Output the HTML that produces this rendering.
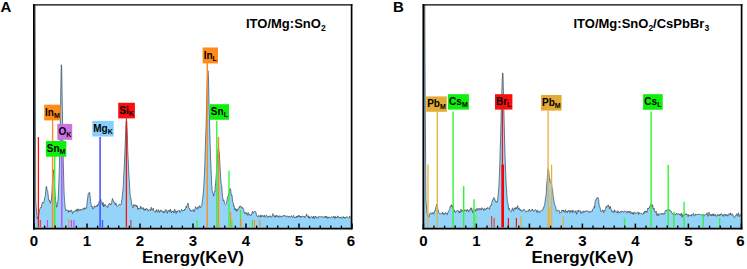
<!DOCTYPE html>
<html><head><meta charset="utf-8"><title>EDS</title>
<style>
html,body{margin:0;padding:0;background:#fff;}
body{width:747px;height:269px;overflow:hidden;font-family:"Liberation Sans",sans-serif;}
svg{display:block;font-family:"Liberation Sans",sans-serif;}
.tk{font-size:15px;font-weight:bold;text-anchor:middle;fill:#000;}
.lb{font-size:10px;font-weight:bold;text-anchor:middle;fill:#000;}
.sb{font-size:7px;font-weight:bold;}
.pl{font-size:15px;font-weight:bold;fill:#000;}
.tt{font-size:13px;font-weight:bold;fill:#000;}
.ts{font-size:8.5px;font-weight:bold;}
.ax{font-size:17px;font-weight:bold;text-anchor:middle;fill:#000;}
</style></head><body>
<svg width="747" height="269" viewBox="0 0 747 269">
<rect width="747" height="269" fill="#fff"/>
<!-- Panel A -->
<path d="M35.0 228.0 L34.8 5.0 L35.1 5.0 L35.4 100.0 L35.7 200.0 L36.5 211.5 L37.3 218.9 L37.7 217.5 L38.1 216.3 L38.5 216.1 L38.9 213.7 L39.3 211.5 L39.7 209.5 L40.1 208.5 L40.5 207.5 L40.9 207.1 L41.3 207.6 L41.7 205.0 L42.1 203.6 L42.5 202.0 L42.9 202.7 L43.3 203.0 L43.7 202.1 L44.1 201.9 L44.5 198.0 L44.9 197.3 L45.3 195.8 L45.7 191.9 L46.1 186.9 L46.5 186.4 L46.9 188.9 L47.3 190.6 L47.7 191.2 L48.1 194.6 L48.5 198.5 L48.9 200.5 L49.3 200.8 L49.7 199.9 L50.1 203.1 L50.5 203.2 L50.9 201.5 L51.3 200.8 L51.7 195.8 L52.1 190.1 L52.5 181.0 L52.9 174.6 L53.3 172.3 L53.7 169.7 L54.1 175.8 L54.5 185.8 L54.9 191.4 L55.3 196.3 L55.7 201.0 L56.1 203.3 L56.5 207.2 L56.9 206.9 L57.3 204.5 L57.7 202.5 L58.1 198.6 L58.5 191.9 L58.9 181.1 L59.3 170.7 L59.7 151.2 L60.1 133.2 L60.5 108.3 L60.9 84.3 L61.3 64.8 L61.7 68.3 L62.1 93.2 L62.5 117.0 L62.9 143.2 L63.3 163.3 L63.7 179.3 L64.1 193.3 L64.5 200.5 L64.9 203.7 L65.3 209.1 L65.7 209.8 L66.1 210.8 L66.5 209.7 L66.9 210.3 L67.3 210.5 L67.7 210.5 L68.1 210.8 L68.5 212.4 L68.9 210.4 L69.3 211.9 L69.7 211.4 L70.1 210.5 L70.5 211.6 L70.9 211.2 L71.3 209.9 L71.7 210.6 L72.1 211.8 L72.5 213.8 L72.9 212.7 L73.3 211.7 L73.7 211.5 L74.1 211.8 L74.5 210.8 L74.9 211.1 L75.3 211.0 L75.7 210.1 L76.1 211.2 L76.5 211.2 L76.9 208.7 L77.3 209.0 L77.7 211.4 L78.1 211.0 L78.5 209.9 L78.9 208.9 L79.3 209.6 L79.7 210.5 L80.1 210.8 L80.5 209.5 L80.9 209.2 L81.3 210.0 L81.7 209.9 L82.1 209.9 L82.5 208.8 L82.9 209.6 L83.3 208.9 L83.7 208.1 L84.1 208.2 L84.5 209.4 L84.9 207.7 L85.3 208.6 L85.7 207.9 L86.1 208.0 L86.5 208.3 L86.9 204.7 L87.3 201.1 L87.7 198.1 L88.1 194.6 L88.5 193.1 L88.9 192.7 L89.3 192.8 L89.7 192.3 L90.1 195.9 L90.5 201.2 L90.9 203.2 L91.3 205.7 L91.7 207.1 L92.1 206.3 L92.5 207.4 L92.9 209.1 L93.3 208.8 L93.7 207.5 L94.1 207.0 L94.5 205.8 L94.9 207.3 L95.3 206.5 L95.7 206.1 L96.1 206.7 L96.5 205.7 L96.9 205.4 L97.3 206.5 L97.7 204.5 L98.1 205.3 L98.5 204.0 L98.9 202.5 L99.3 201.1 L99.7 201.4 L100.1 200.6 L100.5 200.4 L100.9 199.5 L101.3 201.7 L101.7 202.4 L102.1 203.3 L102.5 205.3 L102.9 202.2 L103.3 204.0 L103.7 206.8 L104.1 204.5 L104.5 206.0 L104.9 205.5 L105.3 204.5 L105.7 205.8 L106.1 206.2 L106.5 206.3 L106.9 205.9 L107.3 207.3 L107.7 207.5 L108.1 206.2 L108.5 204.5 L108.9 204.4 L109.3 203.2 L109.7 203.5 L110.1 204.6 L110.5 204.0 L110.9 205.0 L111.3 203.7 L111.7 202.3 L112.1 200.0 L112.5 198.5 L112.9 199.6 L113.3 200.6 L113.7 202.4 L114.1 202.1 L114.5 202.2 L114.9 202.8 L115.3 204.9 L115.7 203.1 L116.1 203.3 L116.5 205.2 L116.9 206.3 L117.3 206.4 L117.7 205.9 L118.1 205.9 L118.5 205.4 L118.9 204.9 L119.3 204.2 L119.7 204.0 L120.1 205.2 L120.5 204.8 L120.9 204.7 L121.3 204.2 L121.7 199.9 L122.1 199.0 L122.5 193.7 L122.9 190.8 L123.3 185.3 L123.7 176.7 L124.1 169.8 L124.5 160.8 L124.9 151.6 L125.3 141.5 L125.7 130.5 L126.1 123.5 L126.5 118.3 L126.9 124.9 L127.3 132.4 L127.7 149.6 L128.1 158.5 L128.5 165.4 L128.9 175.1 L129.3 181.1 L129.7 187.6 L130.1 194.3 L130.5 197.9 L130.9 197.9 L131.3 201.9 L131.7 204.3 L132.1 206.0 L132.5 206.2 L132.9 207.8 L133.3 207.4 L133.7 204.4 L134.1 204.9 L134.5 205.9 L134.9 205.6 L135.3 204.8 L135.7 205.9 L136.1 205.0 L136.5 205.6 L136.9 207.0 L137.3 205.9 L137.7 209.4 L138.1 209.3 L138.5 207.9 L138.9 208.8 L139.3 208.6 L139.7 208.9 L140.1 209.2 L140.5 206.1 L140.9 207.0 L141.3 208.5 L141.7 207.6 L142.1 208.7 L142.5 208.3 L142.9 208.5 L143.3 207.6 L143.7 210.1 L144.1 209.1 L144.5 209.0 L144.9 210.5 L145.3 208.9 L145.7 210.0 L146.1 208.4 L146.5 208.6 L146.9 208.8 L147.3 209.4 L147.7 208.9 L148.1 211.2 L148.5 210.4 L148.9 210.4 L149.3 209.9 L149.7 209.9 L150.1 209.4 L150.5 210.6 L150.9 208.7 L151.3 207.3 L151.7 209.5 L152.1 210.3 L152.5 210.0 L152.9 209.0 L153.3 208.1 L153.7 210.8 L154.1 211.4 L154.5 211.6 L154.9 211.8 L155.3 212.4 L155.7 210.8 L156.1 211.5 L156.5 209.7 L156.9 209.4 L157.3 211.3 L157.7 212.0 L158.1 211.7 L158.5 209.8 L158.9 211.2 L159.3 212.6 L159.7 211.5 L160.1 210.7 L160.5 211.5 L160.9 209.8 L161.3 210.2 L161.7 210.5 L162.1 211.6 L162.5 211.3 L162.9 211.2 L163.3 213.1 L163.7 211.5 L164.1 212.5 L164.5 211.6 L164.9 212.3 L165.3 209.7 L165.7 210.0 L166.1 210.1 L166.5 209.9 L166.9 211.9 L167.3 213.5 L167.7 212.1 L168.1 210.3 L168.5 210.6 L168.9 210.3 L169.3 209.9 L169.7 212.0 L170.1 211.2 L170.5 209.1 L170.9 210.9 L171.3 213.0 L171.7 211.9 L172.1 211.5 L172.5 210.8 L172.9 211.7 L173.3 211.2 L173.7 213.0 L174.1 211.0 L174.5 209.3 L174.9 209.3 L175.3 211.9 L175.7 211.2 L176.1 213.6 L176.5 211.7 L176.9 211.0 L177.3 211.9 L177.7 211.0 L178.1 210.7 L178.5 210.0 L178.9 210.4 L179.3 210.6 L179.7 212.5 L180.1 212.5 L180.5 211.6 L180.9 210.6 L181.3 210.6 L181.7 209.3 L182.1 210.9 L182.5 211.1 L182.9 210.5 L183.3 210.7 L183.7 210.1 L184.1 210.8 L184.5 209.2 L184.9 209.8 L185.3 208.6 L185.7 208.4 L186.1 206.4 L186.5 207.6 L186.9 205.6 L187.3 205.0 L187.7 204.2 L188.1 203.1 L188.5 205.8 L188.9 207.8 L189.3 208.6 L189.7 208.2 L190.1 210.6 L190.5 210.0 L190.9 210.9 L191.3 211.4 L191.7 210.7 L192.1 209.7 L192.5 210.3 L192.9 210.4 L193.3 209.8 L193.7 209.8 L194.1 212.0 L194.5 210.6 L194.9 209.2 L195.3 207.9 L195.7 206.6 L196.1 207.4 L196.5 208.3 L196.9 209.4 L197.3 208.7 L197.7 207.5 L198.1 206.7 L198.5 208.4 L198.9 208.0 L199.3 206.9 L199.7 205.5 L200.1 206.4 L200.5 207.5 L200.9 207.5 L201.3 206.6 L201.7 205.8 L202.1 202.9 L202.5 199.8 L202.9 197.0 L203.3 192.3 L203.7 188.5 L204.1 180.9 L204.5 172.8 L204.9 162.1 L205.3 147.9 L205.7 136.1 L206.1 125.3 L206.5 107.8 L206.9 91.4 L207.3 79.5 L207.7 71.9 L208.1 70.8 L208.5 79.0 L208.9 97.4 L209.3 112.4 L209.7 126.3 L210.1 143.9 L210.5 155.9 L210.9 166.1 L211.3 175.2 L211.7 185.3 L212.1 190.2 L212.5 191.8 L212.9 193.5 L213.3 193.9 L213.7 196.2 L214.1 193.3 L214.5 191.6 L214.9 191.9 L215.3 186.4 L215.7 182.6 L216.1 177.1 L216.5 172.2 L216.9 164.6 L217.3 159.1 L217.7 154.7 L218.1 148.5 L218.5 147.3 L218.9 150.6 L219.3 152.7 L219.7 160.5 L220.1 168.2 L220.5 174.1 L220.9 180.8 L221.3 184.8 L221.7 185.3 L222.1 191.8 L222.5 195.3 L222.9 198.9 L223.3 200.9 L223.7 199.8 L224.1 200.8 L224.5 203.4 L224.9 203.7 L225.3 204.5 L225.7 204.6 L226.1 204.2 L226.5 203.5 L226.9 200.9 L227.3 198.5 L227.7 196.7 L228.1 195.6 L228.5 195.5 L228.9 192.7 L229.3 191.8 L229.7 189.0 L230.1 188.4 L230.5 188.8 L230.9 191.4 L231.3 195.6 L231.7 194.9 L232.1 195.7 L232.5 201.2 L232.9 202.7 L233.3 202.8 L233.7 206.4 L234.1 205.8 L234.5 207.8 L234.9 210.1 L235.3 208.5 L235.7 209.0 L236.1 210.5 L236.5 209.5 L236.9 211.5 L237.3 208.9 L237.7 209.8 L238.1 209.3 L238.5 209.1 L238.9 208.0 L239.3 206.6 L239.7 207.5 L240.1 206.0 L240.5 206.1 L240.9 206.9 L241.3 206.7 L241.7 207.7 L242.1 208.4 L242.5 207.4 L242.9 208.7 L243.3 208.7 L243.7 209.7 L244.1 211.9 L244.5 213.6 L244.9 213.3 L245.3 212.4 L245.7 212.7 L246.1 213.8 L246.5 212.7 L246.9 214.7 L247.3 215.3 L247.7 214.3 L248.1 212.4 L248.5 213.4 L248.9 215.3 L249.3 214.7 L249.7 214.3 L250.1 214.2 L250.5 215.1 L250.9 215.7 L251.3 215.0 L251.7 214.2 L252.1 212.7 L252.5 211.4 L252.9 213.0 L253.3 213.1 L253.7 212.2 L254.1 211.9 L254.5 211.3 L254.9 211.3 L255.3 211.9 L255.7 211.6 L256.1 213.2 L256.5 215.0 L256.9 216.1 L257.3 216.2 L257.7 216.3 L258.1 217.1 L258.5 215.5 L258.9 215.3 L259.3 215.9 L259.7 216.5 L260.1 217.2 L260.5 217.0 L260.9 214.8 L261.3 217.1 L261.7 216.5 L262.1 215.4 L262.5 215.8 L262.9 216.3 L263.3 215.7 L263.7 216.8 L264.1 216.2 L264.5 215.1 L264.9 216.8 L265.3 217.3 L265.7 216.5 L266.1 215.6 L266.5 215.2 L266.9 215.5 L267.3 216.7 L267.7 217.4 L268.1 216.6 L268.5 216.1 L268.9 217.1 L269.3 216.7 L269.7 216.2 L270.1 215.6 L270.5 216.9 L270.9 216.3 L271.3 217.2 L271.7 217.1 L272.1 216.6 L272.5 215.4 L272.9 213.6 L273.3 215.4 L273.7 216.0 L274.1 215.6 L274.5 217.2 L274.9 216.3 L275.3 217.2 L275.7 215.6 L276.1 215.0 L276.5 215.7 L276.9 217.0 L277.3 215.5 L277.7 215.9 L278.1 216.4 L278.5 216.1 L278.9 217.6 L279.3 216.7 L279.7 215.7 L280.1 216.0 L280.5 216.3 L280.9 217.2 L281.3 216.3 L281.7 216.2 L282.1 216.5 L282.5 217.0 L282.9 216.1 L283.3 215.4 L283.7 215.9 L284.1 215.8 L284.5 215.3 L284.9 215.0 L285.3 216.0 L285.7 216.7 L286.1 216.9 L286.5 216.7 L286.9 216.2 L287.3 215.8 L287.7 216.6 L288.1 216.6 L288.5 217.3 L288.9 216.0 L289.3 216.5 L289.7 216.5 L290.1 217.0 L290.5 217.0 L290.9 217.2 L291.3 215.6 L291.7 215.9 L292.1 216.7 L292.5 217.4 L292.9 217.3 L293.3 216.4 L293.7 215.3 L294.1 217.2 L294.5 217.7 L294.9 217.0 L295.3 217.2 L295.7 218.0 L296.1 217.1 L296.5 216.1 L296.9 217.6 L297.3 217.0 L297.7 215.9 L298.1 215.7 L298.5 216.7 L298.9 215.1 L299.3 215.7 L299.7 217.1 L300.1 216.2 L300.5 217.3 L300.9 216.4 L301.3 217.4 L301.7 216.5 L302.1 216.9 L302.5 216.1 L302.9 215.9 L303.3 216.2 L303.7 216.6 L304.1 216.0 L304.5 217.8 L304.9 217.0 L305.3 216.4 L305.7 216.3 L306.1 216.0 L306.5 213.9 L306.9 215.7 L307.3 216.2 L307.7 216.5 L308.1 215.6 L308.5 217.9 L308.9 216.2 L309.3 216.9 L309.7 218.7 L310.1 218.3 L310.5 217.3 L310.9 216.8 L311.3 216.9 L311.7 216.3 L312.1 216.7 L312.5 216.9 L312.9 218.5 L313.3 217.1 L313.7 216.0 L314.1 216.9 L314.5 218.4 L314.9 218.4 L315.3 216.1 L315.7 216.9 L316.1 217.6 L316.5 217.7 L316.9 216.7 L317.3 217.2 L317.7 217.8 L318.1 218.3 L318.5 217.5 L318.9 216.3 L319.3 216.8 L319.7 216.4 L320.1 216.6 L320.5 216.9 L320.9 216.9 L321.3 217.0 L321.7 216.3 L322.1 216.4 L322.5 217.3 L322.9 217.1 L323.3 217.1 L323.7 216.7 L324.1 216.8 L324.5 216.7 L324.9 218.0 L325.3 217.2 L325.7 216.1 L326.1 217.7 L326.5 216.3 L326.9 216.5 L327.3 217.2 L327.7 218.5 L328.1 216.8 L328.5 217.5 L328.9 217.8 L329.3 216.9 L329.7 217.7 L330.1 218.1 L330.5 218.3 L330.9 217.6 L331.3 216.8 L331.7 216.7 L332.1 216.8 L332.5 217.3 L332.9 217.2 L333.3 217.7 L333.7 216.0 L334.1 216.6 L334.5 218.6 L334.9 218.5 L335.3 216.4 L335.7 217.8 L336.1 217.9 L336.5 217.1 L336.9 217.9 L337.3 216.8 L337.7 215.8 L338.1 217.4 L338.5 216.7 L338.9 217.6 L339.3 218.2 L339.7 217.4 L340.1 217.1 L340.5 217.7 L340.9 216.9 L341.3 218.2 L341.7 218.3 L342.1 218.3 L342.5 217.1 L342.9 216.6 L343.3 216.7 L343.7 218.1 L344.1 217.6 L344.5 217.0 L344.9 218.4 L345.3 218.4 L345.7 217.2 L346.1 216.7 L346.5 217.0 L346.9 217.0 L347.3 217.1 L347.7 217.2 L348.1 217.5 L348.5 218.1 L348.9 217.9 L349.3 217.8 L349.7 215.9 L350.1 216.7 L350.5 217.4 L350.9 217.6 L351.3 217.6 L351.5 228.0 Z" fill="#93D4F8" stroke="none"/>
<path d="M35.1 5.0 L35.4 100.0 L35.7 200.0 L36.5 211.5 L37.3 218.9 L37.7 217.5 L38.1 216.3 L38.5 216.1 L38.9 213.7 L39.3 211.5 L39.7 209.5 L40.1 208.5 L40.5 207.5 L40.9 207.1 L41.3 207.6 L41.7 205.0 L42.1 203.6 L42.5 202.0 L42.9 202.7 L43.3 203.0 L43.7 202.1 L44.1 201.9 L44.5 198.0 L44.9 197.3 L45.3 195.8 L45.7 191.9 L46.1 186.9 L46.5 186.4 L46.9 188.9 L47.3 190.6 L47.7 191.2 L48.1 194.6 L48.5 198.5 L48.9 200.5 L49.3 200.8 L49.7 199.9 L50.1 203.1 L50.5 203.2 L50.9 201.5 L51.3 200.8 L51.7 195.8 L52.1 190.1 L52.5 181.0 L52.9 174.6 L53.3 172.3 L53.7 169.7 L54.1 175.8 L54.5 185.8 L54.9 191.4 L55.3 196.3 L55.7 201.0 L56.1 203.3 L56.5 207.2 L56.9 206.9 L57.3 204.5 L57.7 202.5 L58.1 198.6 L58.5 191.9 L58.9 181.1 L59.3 170.7 L59.7 151.2 L60.1 133.2 L60.5 108.3 L60.9 84.3 L61.3 64.8 L61.7 68.3 L62.1 93.2 L62.5 117.0 L62.9 143.2 L63.3 163.3 L63.7 179.3 L64.1 193.3 L64.5 200.5 L64.9 203.7 L65.3 209.1 L65.7 209.8 L66.1 210.8 L66.5 209.7 L66.9 210.3 L67.3 210.5 L67.7 210.5 L68.1 210.8 L68.5 212.4 L68.9 210.4 L69.3 211.9 L69.7 211.4 L70.1 210.5 L70.5 211.6 L70.9 211.2 L71.3 209.9 L71.7 210.6 L72.1 211.8 L72.5 213.8 L72.9 212.7 L73.3 211.7 L73.7 211.5 L74.1 211.8 L74.5 210.8 L74.9 211.1 L75.3 211.0 L75.7 210.1 L76.1 211.2 L76.5 211.2 L76.9 208.7 L77.3 209.0 L77.7 211.4 L78.1 211.0 L78.5 209.9 L78.9 208.9 L79.3 209.6 L79.7 210.5 L80.1 210.8 L80.5 209.5 L80.9 209.2 L81.3 210.0 L81.7 209.9 L82.1 209.9 L82.5 208.8 L82.9 209.6 L83.3 208.9 L83.7 208.1 L84.1 208.2 L84.5 209.4 L84.9 207.7 L85.3 208.6 L85.7 207.9 L86.1 208.0 L86.5 208.3 L86.9 204.7 L87.3 201.1 L87.7 198.1 L88.1 194.6 L88.5 193.1 L88.9 192.7 L89.3 192.8 L89.7 192.3 L90.1 195.9 L90.5 201.2 L90.9 203.2 L91.3 205.7 L91.7 207.1 L92.1 206.3 L92.5 207.4 L92.9 209.1 L93.3 208.8 L93.7 207.5 L94.1 207.0 L94.5 205.8 L94.9 207.3 L95.3 206.5 L95.7 206.1 L96.1 206.7 L96.5 205.7 L96.9 205.4 L97.3 206.5 L97.7 204.5 L98.1 205.3 L98.5 204.0 L98.9 202.5 L99.3 201.1 L99.7 201.4 L100.1 200.6 L100.5 200.4 L100.9 199.5 L101.3 201.7 L101.7 202.4 L102.1 203.3 L102.5 205.3 L102.9 202.2 L103.3 204.0 L103.7 206.8 L104.1 204.5 L104.5 206.0 L104.9 205.5 L105.3 204.5 L105.7 205.8 L106.1 206.2 L106.5 206.3 L106.9 205.9 L107.3 207.3 L107.7 207.5 L108.1 206.2 L108.5 204.5 L108.9 204.4 L109.3 203.2 L109.7 203.5 L110.1 204.6 L110.5 204.0 L110.9 205.0 L111.3 203.7 L111.7 202.3 L112.1 200.0 L112.5 198.5 L112.9 199.6 L113.3 200.6 L113.7 202.4 L114.1 202.1 L114.5 202.2 L114.9 202.8 L115.3 204.9 L115.7 203.1 L116.1 203.3 L116.5 205.2 L116.9 206.3 L117.3 206.4 L117.7 205.9 L118.1 205.9 L118.5 205.4 L118.9 204.9 L119.3 204.2 L119.7 204.0 L120.1 205.2 L120.5 204.8 L120.9 204.7 L121.3 204.2 L121.7 199.9 L122.1 199.0 L122.5 193.7 L122.9 190.8 L123.3 185.3 L123.7 176.7 L124.1 169.8 L124.5 160.8 L124.9 151.6 L125.3 141.5 L125.7 130.5 L126.1 123.5 L126.5 118.3 L126.9 124.9 L127.3 132.4 L127.7 149.6 L128.1 158.5 L128.5 165.4 L128.9 175.1 L129.3 181.1 L129.7 187.6 L130.1 194.3 L130.5 197.9 L130.9 197.9 L131.3 201.9 L131.7 204.3 L132.1 206.0 L132.5 206.2 L132.9 207.8 L133.3 207.4 L133.7 204.4 L134.1 204.9 L134.5 205.9 L134.9 205.6 L135.3 204.8 L135.7 205.9 L136.1 205.0 L136.5 205.6 L136.9 207.0 L137.3 205.9 L137.7 209.4 L138.1 209.3 L138.5 207.9 L138.9 208.8 L139.3 208.6 L139.7 208.9 L140.1 209.2 L140.5 206.1 L140.9 207.0 L141.3 208.5 L141.7 207.6 L142.1 208.7 L142.5 208.3 L142.9 208.5 L143.3 207.6 L143.7 210.1 L144.1 209.1 L144.5 209.0 L144.9 210.5 L145.3 208.9 L145.7 210.0 L146.1 208.4 L146.5 208.6 L146.9 208.8 L147.3 209.4 L147.7 208.9 L148.1 211.2 L148.5 210.4 L148.9 210.4 L149.3 209.9 L149.7 209.9 L150.1 209.4 L150.5 210.6 L150.9 208.7 L151.3 207.3 L151.7 209.5 L152.1 210.3 L152.5 210.0 L152.9 209.0 L153.3 208.1 L153.7 210.8 L154.1 211.4 L154.5 211.6 L154.9 211.8 L155.3 212.4 L155.7 210.8 L156.1 211.5 L156.5 209.7 L156.9 209.4 L157.3 211.3 L157.7 212.0 L158.1 211.7 L158.5 209.8 L158.9 211.2 L159.3 212.6 L159.7 211.5 L160.1 210.7 L160.5 211.5 L160.9 209.8 L161.3 210.2 L161.7 210.5 L162.1 211.6 L162.5 211.3 L162.9 211.2 L163.3 213.1 L163.7 211.5 L164.1 212.5 L164.5 211.6 L164.9 212.3 L165.3 209.7 L165.7 210.0 L166.1 210.1 L166.5 209.9 L166.9 211.9 L167.3 213.5 L167.7 212.1 L168.1 210.3 L168.5 210.6 L168.9 210.3 L169.3 209.9 L169.7 212.0 L170.1 211.2 L170.5 209.1 L170.9 210.9 L171.3 213.0 L171.7 211.9 L172.1 211.5 L172.5 210.8 L172.9 211.7 L173.3 211.2 L173.7 213.0 L174.1 211.0 L174.5 209.3 L174.9 209.3 L175.3 211.9 L175.7 211.2 L176.1 213.6 L176.5 211.7 L176.9 211.0 L177.3 211.9 L177.7 211.0 L178.1 210.7 L178.5 210.0 L178.9 210.4 L179.3 210.6 L179.7 212.5 L180.1 212.5 L180.5 211.6 L180.9 210.6 L181.3 210.6 L181.7 209.3 L182.1 210.9 L182.5 211.1 L182.9 210.5 L183.3 210.7 L183.7 210.1 L184.1 210.8 L184.5 209.2 L184.9 209.8 L185.3 208.6 L185.7 208.4 L186.1 206.4 L186.5 207.6 L186.9 205.6 L187.3 205.0 L187.7 204.2 L188.1 203.1 L188.5 205.8 L188.9 207.8 L189.3 208.6 L189.7 208.2 L190.1 210.6 L190.5 210.0 L190.9 210.9 L191.3 211.4 L191.7 210.7 L192.1 209.7 L192.5 210.3 L192.9 210.4 L193.3 209.8 L193.7 209.8 L194.1 212.0 L194.5 210.6 L194.9 209.2 L195.3 207.9 L195.7 206.6 L196.1 207.4 L196.5 208.3 L196.9 209.4 L197.3 208.7 L197.7 207.5 L198.1 206.7 L198.5 208.4 L198.9 208.0 L199.3 206.9 L199.7 205.5 L200.1 206.4 L200.5 207.5 L200.9 207.5 L201.3 206.6 L201.7 205.8 L202.1 202.9 L202.5 199.8 L202.9 197.0 L203.3 192.3 L203.7 188.5 L204.1 180.9 L204.5 172.8 L204.9 162.1 L205.3 147.9 L205.7 136.1 L206.1 125.3 L206.5 107.8 L206.9 91.4 L207.3 79.5 L207.7 71.9 L208.1 70.8 L208.5 79.0 L208.9 97.4 L209.3 112.4 L209.7 126.3 L210.1 143.9 L210.5 155.9 L210.9 166.1 L211.3 175.2 L211.7 185.3 L212.1 190.2 L212.5 191.8 L212.9 193.5 L213.3 193.9 L213.7 196.2 L214.1 193.3 L214.5 191.6 L214.9 191.9 L215.3 186.4 L215.7 182.6 L216.1 177.1 L216.5 172.2 L216.9 164.6 L217.3 159.1 L217.7 154.7 L218.1 148.5 L218.5 147.3 L218.9 150.6 L219.3 152.7 L219.7 160.5 L220.1 168.2 L220.5 174.1 L220.9 180.8 L221.3 184.8 L221.7 185.3 L222.1 191.8 L222.5 195.3 L222.9 198.9 L223.3 200.9 L223.7 199.8 L224.1 200.8 L224.5 203.4 L224.9 203.7 L225.3 204.5 L225.7 204.6 L226.1 204.2 L226.5 203.5 L226.9 200.9 L227.3 198.5 L227.7 196.7 L228.1 195.6 L228.5 195.5 L228.9 192.7 L229.3 191.8 L229.7 189.0 L230.1 188.4 L230.5 188.8 L230.9 191.4 L231.3 195.6 L231.7 194.9 L232.1 195.7 L232.5 201.2 L232.9 202.7 L233.3 202.8 L233.7 206.4 L234.1 205.8 L234.5 207.8 L234.9 210.1 L235.3 208.5 L235.7 209.0 L236.1 210.5 L236.5 209.5 L236.9 211.5 L237.3 208.9 L237.7 209.8 L238.1 209.3 L238.5 209.1 L238.9 208.0 L239.3 206.6 L239.7 207.5 L240.1 206.0 L240.5 206.1 L240.9 206.9 L241.3 206.7 L241.7 207.7 L242.1 208.4 L242.5 207.4 L242.9 208.7 L243.3 208.7 L243.7 209.7 L244.1 211.9 L244.5 213.6 L244.9 213.3 L245.3 212.4 L245.7 212.7 L246.1 213.8 L246.5 212.7 L246.9 214.7 L247.3 215.3 L247.7 214.3 L248.1 212.4 L248.5 213.4 L248.9 215.3 L249.3 214.7 L249.7 214.3 L250.1 214.2 L250.5 215.1 L250.9 215.7 L251.3 215.0 L251.7 214.2 L252.1 212.7 L252.5 211.4 L252.9 213.0 L253.3 213.1 L253.7 212.2 L254.1 211.9 L254.5 211.3 L254.9 211.3 L255.3 211.9 L255.7 211.6 L256.1 213.2 L256.5 215.0 L256.9 216.1 L257.3 216.2 L257.7 216.3 L258.1 217.1 L258.5 215.5 L258.9 215.3 L259.3 215.9 L259.7 216.5 L260.1 217.2 L260.5 217.0 L260.9 214.8 L261.3 217.1 L261.7 216.5 L262.1 215.4 L262.5 215.8 L262.9 216.3 L263.3 215.7 L263.7 216.8 L264.1 216.2 L264.5 215.1 L264.9 216.8 L265.3 217.3 L265.7 216.5 L266.1 215.6 L266.5 215.2 L266.9 215.5 L267.3 216.7 L267.7 217.4 L268.1 216.6 L268.5 216.1 L268.9 217.1 L269.3 216.7 L269.7 216.2 L270.1 215.6 L270.5 216.9 L270.9 216.3 L271.3 217.2 L271.7 217.1 L272.1 216.6 L272.5 215.4 L272.9 213.6 L273.3 215.4 L273.7 216.0 L274.1 215.6 L274.5 217.2 L274.9 216.3 L275.3 217.2 L275.7 215.6 L276.1 215.0 L276.5 215.7 L276.9 217.0 L277.3 215.5 L277.7 215.9 L278.1 216.4 L278.5 216.1 L278.9 217.6 L279.3 216.7 L279.7 215.7 L280.1 216.0 L280.5 216.3 L280.9 217.2 L281.3 216.3 L281.7 216.2 L282.1 216.5 L282.5 217.0 L282.9 216.1 L283.3 215.4 L283.7 215.9 L284.1 215.8 L284.5 215.3 L284.9 215.0 L285.3 216.0 L285.7 216.7 L286.1 216.9 L286.5 216.7 L286.9 216.2 L287.3 215.8 L287.7 216.6 L288.1 216.6 L288.5 217.3 L288.9 216.0 L289.3 216.5 L289.7 216.5 L290.1 217.0 L290.5 217.0 L290.9 217.2 L291.3 215.6 L291.7 215.9 L292.1 216.7 L292.5 217.4 L292.9 217.3 L293.3 216.4 L293.7 215.3 L294.1 217.2 L294.5 217.7 L294.9 217.0 L295.3 217.2 L295.7 218.0 L296.1 217.1 L296.5 216.1 L296.9 217.6 L297.3 217.0 L297.7 215.9 L298.1 215.7 L298.5 216.7 L298.9 215.1 L299.3 215.7 L299.7 217.1 L300.1 216.2 L300.5 217.3 L300.9 216.4 L301.3 217.4 L301.7 216.5 L302.1 216.9 L302.5 216.1 L302.9 215.9 L303.3 216.2 L303.7 216.6 L304.1 216.0 L304.5 217.8 L304.9 217.0 L305.3 216.4 L305.7 216.3 L306.1 216.0 L306.5 213.9 L306.9 215.7 L307.3 216.2 L307.7 216.5 L308.1 215.6 L308.5 217.9 L308.9 216.2 L309.3 216.9 L309.7 218.7 L310.1 218.3 L310.5 217.3 L310.9 216.8 L311.3 216.9 L311.7 216.3 L312.1 216.7 L312.5 216.9 L312.9 218.5 L313.3 217.1 L313.7 216.0 L314.1 216.9 L314.5 218.4 L314.9 218.4 L315.3 216.1 L315.7 216.9 L316.1 217.6 L316.5 217.7 L316.9 216.7 L317.3 217.2 L317.7 217.8 L318.1 218.3 L318.5 217.5 L318.9 216.3 L319.3 216.8 L319.7 216.4 L320.1 216.6 L320.5 216.9 L320.9 216.9 L321.3 217.0 L321.7 216.3 L322.1 216.4 L322.5 217.3 L322.9 217.1 L323.3 217.1 L323.7 216.7 L324.1 216.8 L324.5 216.7 L324.9 218.0 L325.3 217.2 L325.7 216.1 L326.1 217.7 L326.5 216.3 L326.9 216.5 L327.3 217.2 L327.7 218.5 L328.1 216.8 L328.5 217.5 L328.9 217.8 L329.3 216.9 L329.7 217.7 L330.1 218.1 L330.5 218.3 L330.9 217.6 L331.3 216.8 L331.7 216.7 L332.1 216.8 L332.5 217.3 L332.9 217.2 L333.3 217.7 L333.7 216.0 L334.1 216.6 L334.5 218.6 L334.9 218.5 L335.3 216.4 L335.7 217.8 L336.1 217.9 L336.5 217.1 L336.9 217.9 L337.3 216.8 L337.7 215.8 L338.1 217.4 L338.5 216.7 L338.9 217.6 L339.3 218.2 L339.7 217.4 L340.1 217.1 L340.5 217.7 L340.9 216.9 L341.3 218.2 L341.7 218.3 L342.1 218.3 L342.5 217.1 L342.9 216.6 L343.3 216.7 L343.7 218.1 L344.1 217.6 L344.5 217.0 L344.9 218.4 L345.3 218.4 L345.7 217.2 L346.1 216.7 L346.5 217.0 L346.9 217.0 L347.3 217.1 L347.7 217.2 L348.1 217.5 L348.5 218.1 L348.9 217.9 L349.3 217.8 L349.7 215.9 L350.1 216.7 L350.5 217.4 L350.9 217.6 L351.3 217.6" fill="none" stroke="#3a4550" stroke-width="0.7" stroke-linejoin="round"/>
<line x1="38.4" y1="137.0" x2="38.4" y2="227.3" stroke="#FF1010" stroke-width="1.3"/>
<line x1="40.4" y1="220.0" x2="40.4" y2="227.3" stroke="#E04545" stroke-width="1.3"/>
<line x1="47.4" y1="220.0" x2="47.4" y2="227.3" stroke="#CC44FF" stroke-width="1.2"/>
<line x1="52.6" y1="120.0" x2="52.6" y2="227.3" stroke="#FF8A1F" stroke-width="1.4"/>
<line x1="54.7" y1="156.0" x2="54.7" y2="227.3" stroke="#33F533" stroke-width="1.4"/>
<line x1="61.8" y1="139.0" x2="61.8" y2="227.3" stroke="#CC44FF" stroke-width="1.4"/>
<line x1="68.8" y1="219.0" x2="68.8" y2="227.3" stroke="#E8A030" stroke-width="1.2"/>
<line x1="71.4" y1="220.0" x2="71.4" y2="227.3" stroke="#CC44FF" stroke-width="1.2"/>
<line x1="73.9" y1="220.0" x2="73.9" y2="227.3" stroke="#CC44FF" stroke-width="1.2"/>
<line x1="100.1" y1="137.0" x2="100.1" y2="227.3" stroke="#4A4AFF" stroke-width="1.5"/>
<line x1="102.5" y1="220.0" x2="102.5" y2="227.3" stroke="#4A4AFF" stroke-width="1.3"/>
<line x1="126.4" y1="121.0" x2="126.4" y2="227.3" stroke="#FF1010" stroke-width="1.3"/>
<line x1="130.9" y1="220.0" x2="130.9" y2="227.3" stroke="#E04545" stroke-width="1.3"/>
<line x1="197.0" y1="220.0" x2="197.0" y2="227.3" stroke="#33F533" stroke-width="1.3"/>
<line x1="207.3" y1="63.0" x2="207.3" y2="227.3" stroke="#FF8A1F" stroke-width="1.4"/>
<line x1="216.8" y1="121.0" x2="216.8" y2="227.3" stroke="#33F533" stroke-width="1.4"/>
<line x1="218.5" y1="137.0" x2="218.5" y2="227.3" stroke="#FF8A1F" stroke-width="1.4"/>
<line x1="229.0" y1="170.4" x2="229.0" y2="227.3" stroke="#33F533" stroke-width="1.3"/>
<line x1="230.6" y1="211.8" x2="230.6" y2="227.3" stroke="#FF8A1F" stroke-width="1.2"/>
<line x1="231.9" y1="220.0" x2="231.9" y2="227.3" stroke="#33F533" stroke-width="1.2"/>
<line x1="240.5" y1="210.0" x2="240.5" y2="227.3" stroke="#33F533" stroke-width="1.3"/>
<line x1="240.7" y1="218.5" x2="240.7" y2="227.3" stroke="#FF8A1F" stroke-width="1.3"/>
<line x1="252.4" y1="220.0" x2="252.4" y2="227.3" stroke="#33F533" stroke-width="1.2"/>
<line x1="254.4" y1="220.0" x2="254.4" y2="227.3" stroke="#FF8A1F" stroke-width="1.2"/>
<line x1="259.9" y1="220.0" x2="259.9" y2="227.3" stroke="#FF8A1F" stroke-width="1.2"/>
<line x1="34.0" y1="223.6" x2="34.0" y2="228.6" stroke="#000" stroke-width="1.5"/>
<line x1="44.6" y1="225.6" x2="44.6" y2="228.6" stroke="#000" stroke-width="1.3"/>
<line x1="55.2" y1="225.6" x2="55.2" y2="228.6" stroke="#000" stroke-width="1.3"/>
<line x1="65.8" y1="225.6" x2="65.8" y2="228.6" stroke="#000" stroke-width="1.3"/>
<line x1="76.4" y1="225.6" x2="76.4" y2="228.6" stroke="#000" stroke-width="1.3"/>
<line x1="87.0" y1="223.6" x2="87.0" y2="228.6" stroke="#000" stroke-width="1.5"/>
<line x1="97.6" y1="225.6" x2="97.6" y2="228.6" stroke="#000" stroke-width="1.3"/>
<line x1="108.2" y1="225.6" x2="108.2" y2="228.6" stroke="#000" stroke-width="1.3"/>
<line x1="118.8" y1="225.6" x2="118.8" y2="228.6" stroke="#000" stroke-width="1.3"/>
<line x1="129.4" y1="225.6" x2="129.4" y2="228.6" stroke="#000" stroke-width="1.3"/>
<line x1="140.0" y1="223.6" x2="140.0" y2="228.6" stroke="#000" stroke-width="1.5"/>
<line x1="150.6" y1="225.6" x2="150.6" y2="228.6" stroke="#000" stroke-width="1.3"/>
<line x1="161.2" y1="225.6" x2="161.2" y2="228.6" stroke="#000" stroke-width="1.3"/>
<line x1="171.8" y1="225.6" x2="171.8" y2="228.6" stroke="#000" stroke-width="1.3"/>
<line x1="182.4" y1="225.6" x2="182.4" y2="228.6" stroke="#000" stroke-width="1.3"/>
<line x1="193.0" y1="223.6" x2="193.0" y2="228.6" stroke="#000" stroke-width="1.5"/>
<line x1="203.6" y1="225.6" x2="203.6" y2="228.6" stroke="#000" stroke-width="1.3"/>
<line x1="214.2" y1="225.6" x2="214.2" y2="228.6" stroke="#000" stroke-width="1.3"/>
<line x1="224.8" y1="225.6" x2="224.8" y2="228.6" stroke="#000" stroke-width="1.3"/>
<line x1="235.4" y1="225.6" x2="235.4" y2="228.6" stroke="#000" stroke-width="1.3"/>
<line x1="246.0" y1="223.6" x2="246.0" y2="228.6" stroke="#000" stroke-width="1.5"/>
<line x1="256.6" y1="225.6" x2="256.6" y2="228.6" stroke="#000" stroke-width="1.3"/>
<line x1="267.2" y1="225.6" x2="267.2" y2="228.6" stroke="#000" stroke-width="1.3"/>
<line x1="277.8" y1="225.6" x2="277.8" y2="228.6" stroke="#000" stroke-width="1.3"/>
<line x1="288.4" y1="225.6" x2="288.4" y2="228.6" stroke="#000" stroke-width="1.3"/>
<line x1="299.0" y1="223.6" x2="299.0" y2="228.6" stroke="#000" stroke-width="1.5"/>
<line x1="309.6" y1="225.6" x2="309.6" y2="228.6" stroke="#000" stroke-width="1.3"/>
<line x1="320.2" y1="225.6" x2="320.2" y2="228.6" stroke="#000" stroke-width="1.3"/>
<line x1="330.8" y1="225.6" x2="330.8" y2="228.6" stroke="#000" stroke-width="1.3"/>
<line x1="341.4" y1="225.6" x2="341.4" y2="228.6" stroke="#000" stroke-width="1.3"/>
<line x1="352.0" y1="223.6" x2="352.0" y2="228.6" stroke="#000" stroke-width="1.5"/>
<line x1="33.05" y1="4.9" x2="352.45" y2="4.9" stroke="#000" stroke-width="1.4"/>
<line x1="33.05" y1="228.6" x2="352.45" y2="228.6" stroke="#000" stroke-width="1.7"/>
<line x1="33.9" y1="4.2" x2="33.9" y2="229.4" stroke="#000" stroke-width="1.8"/>
<line x1="351.6" y1="4.2" x2="351.6" y2="229.4" stroke="#000" stroke-width="1.7"/>
<rect x="44.2" y="104.7" width="16.4" height="15.7" fill="#FF8A1A"/><text x="52.4" y="115.7" class="lb">In<tspan class="sb" dy="2.2">M</tspan></text>
<rect x="57.3" y="123.9" width="14.9" height="15.9" fill="#CB72DE"/><text x="64.8" y="135.0" class="lb">O<tspan class="sb" dy="2.2">K</tspan></text>
<rect x="45.9" y="141.0" width="20.4" height="15.7" fill="#0CF00C"/><text x="56.1" y="152.0" class="lb">Sn<tspan class="sb" dy="2.2">M</tspan></text>
<rect x="92.3" y="120.9" width="21.4" height="15.6" fill="#87CEFA"/><text x="103.0" y="131.8" class="lb">Mg<tspan class="sb" dy="2.2">K</tspan></text>
<rect x="118.2" y="102.8" width="16.7" height="15.6" fill="#FB0D0D"/><text x="126.5" y="113.7" class="lb">Si<tspan class="sb" dy="2.2">K</tspan></text>
<rect x="202.6" y="47.5" width="15.4" height="15.9" fill="#FF8A1A"/><text x="210.3" y="58.6" class="lb">In<tspan class="sb" dy="2.2">L</tspan></text>
<rect x="209.8" y="104.2" width="19.2" height="15.6" fill="#0CF00C"/><text x="219.4" y="115.1" class="lb">Sn<tspan class="sb" dy="2.2">L</tspan></text>
<text x="34.0" y="246.4" class="tk">0</text>
<text x="87.0" y="246.4" class="tk">1</text>
<text x="140.0" y="246.4" class="tk">2</text>
<text x="193.0" y="246.4" class="tk">3</text>
<text x="246.0" y="246.4" class="tk">4</text>
<text x="299.0" y="246.4" class="tk">5</text>
<text x="351.0" y="246.4" class="tk">6</text>
<text x="0.6" y="12.4" class="pl">A</text>
<text x="246" y="28" class="tt">ITO/Mg:SnO<tspan class="ts" dy="2.5">2</tspan></text>
<text x="193" y="263.3" class="ax">Energy(KeV)</text>
<!-- Panel B -->
<path d="M424.4 228.0 L424.3 5.0 L424.8 5.0 L425.2 100.0 L425.9 200.0 L426.8 211.0 L427.8 216.3 L428.2 216.3 L428.6 216.2 L429.0 217.2 L429.4 215.0 L429.8 213.7 L430.2 213.6 L430.6 212.9 L431.0 212.6 L431.4 213.8 L431.8 214.1 L432.2 213.8 L432.6 212.7 L433.0 212.4 L433.4 214.0 L433.8 214.4 L434.2 212.5 L434.6 210.7 L435.0 210.9 L435.4 210.6 L435.8 207.4 L436.2 206.5 L436.6 205.1 L437.0 204.2 L437.4 206.2 L437.8 208.9 L438.2 210.2 L438.6 212.4 L439.0 213.1 L439.4 213.7 L439.8 213.6 L440.2 213.8 L440.6 213.7 L441.0 213.7 L441.4 213.4 L441.8 213.3 L442.2 213.1 L442.6 212.2 L443.0 214.3 L443.4 212.9 L443.8 213.3 L444.2 214.6 L444.6 214.0 L445.0 213.5 L445.4 212.6 L445.8 214.0 L446.2 213.5 L446.6 213.2 L447.0 214.6 L447.4 214.7 L447.8 212.8 L448.2 211.8 L448.6 210.8 L449.0 210.4 L449.4 209.6 L449.8 208.7 L450.2 206.4 L450.6 206.8 L451.0 206.0 L451.4 204.7 L451.8 206.7 L452.2 205.0 L452.6 207.0 L453.0 208.3 L453.4 207.1 L453.8 210.1 L454.2 211.6 L454.6 210.2 L455.0 212.2 L455.4 212.6 L455.8 211.6 L456.2 211.3 L456.6 211.2 L457.0 211.2 L457.4 210.3 L457.8 210.2 L458.2 210.6 L458.6 211.8 L459.0 212.1 L459.4 213.1 L459.8 211.1 L460.2 212.4 L460.6 210.8 L461.0 209.0 L461.4 211.2 L461.8 211.9 L462.2 211.5 L462.6 210.3 L463.0 211.3 L463.4 211.2 L463.8 211.3 L464.2 211.1 L464.6 209.6 L465.0 211.1 L465.4 210.9 L465.8 210.4 L466.2 209.7 L466.6 211.4 L467.0 210.0 L467.4 209.8 L467.8 209.6 L468.2 210.1 L468.6 211.9 L469.0 211.6 L469.4 209.9 L469.8 210.1 L470.2 210.4 L470.6 208.7 L471.0 207.7 L471.4 209.6 L471.8 208.5 L472.2 211.4 L472.6 212.8 L473.0 210.1 L473.4 210.1 L473.8 209.7 L474.2 209.4 L474.6 210.0 L475.0 209.5 L475.4 209.7 L475.8 211.4 L476.2 210.3 L476.6 209.7 L477.0 208.1 L477.4 210.2 L477.8 210.1 L478.2 210.1 L478.6 209.9 L479.0 208.1 L479.4 208.6 L479.8 209.8 L480.2 209.5 L480.6 208.6 L481.0 210.0 L481.4 209.9 L481.8 207.9 L482.2 207.8 L482.6 208.9 L483.0 209.5 L483.4 209.3 L483.8 210.5 L484.2 208.6 L484.6 208.2 L485.0 208.5 L485.4 209.9 L485.8 209.8 L486.2 208.4 L486.6 208.2 L487.0 208.9 L487.4 208.2 L487.8 207.3 L488.2 208.6 L488.6 209.0 L489.0 209.1 L489.4 209.3 L489.8 207.1 L490.2 206.0 L490.6 205.3 L491.0 205.8 L491.4 205.0 L491.8 202.5 L492.2 201.2 L492.6 199.8 L493.0 200.1 L493.4 198.9 L493.8 197.4 L494.2 197.8 L494.6 198.4 L495.0 200.6 L495.4 200.7 L495.8 202.1 L496.2 201.4 L496.6 202.3 L497.0 202.6 L497.4 201.8 L497.8 198.2 L498.2 194.6 L498.6 189.7 L499.0 184.6 L499.4 174.6 L499.8 165.8 L500.2 149.6 L500.6 136.8 L501.0 122.1 L501.4 105.9 L501.8 92.3 L502.2 80.2 L502.6 72.9 L503.0 74.5 L503.4 90.7 L503.8 108.1 L504.2 123.3 L504.6 140.9 L505.0 155.7 L505.4 166.0 L505.8 175.4 L506.2 184.9 L506.6 189.9 L507.0 196.9 L507.4 201.3 L507.8 202.8 L508.2 204.3 L508.6 208.9 L509.0 209.7 L509.4 208.4 L509.8 210.5 L510.2 211.2 L510.6 211.4 L511.0 211.7 L511.4 211.5 L511.8 210.1 L512.2 208.6 L512.6 207.8 L513.0 209.0 L513.4 211.1 L513.8 209.7 L514.2 209.0 L514.6 208.0 L515.0 207.8 L515.4 209.3 L515.8 207.4 L516.2 208.8 L516.6 208.3 L517.0 206.8 L517.4 206.6 L517.8 205.7 L518.2 209.5 L518.6 208.7 L519.0 207.9 L519.4 209.1 L519.8 209.0 L520.2 210.6 L520.6 209.8 L521.0 209.5 L521.4 211.1 L521.8 211.4 L522.2 210.9 L522.6 211.2 L523.0 209.9 L523.4 210.1 L523.8 209.4 L524.2 209.2 L524.6 210.3 L525.0 210.9 L525.4 211.7 L525.8 211.8 L526.2 211.8 L526.6 210.8 L527.0 211.5 L527.4 211.1 L527.8 210.7 L528.2 211.3 L528.6 211.3 L529.0 209.7 L529.4 209.0 L529.8 211.1 L530.2 211.4 L530.6 211.4 L531.0 211.4 L531.4 209.7 L531.8 209.9 L532.2 209.6 L532.6 209.0 L533.0 210.8 L533.4 211.3 L533.8 211.0 L534.2 210.1 L534.6 210.7 L535.0 210.5 L535.4 209.7 L535.8 209.6 L536.2 210.2 L536.6 211.6 L537.0 212.7 L537.4 210.5 L537.8 210.2 L538.2 211.7 L538.6 211.8 L539.0 211.6 L539.4 212.6 L539.8 211.3 L540.2 211.6 L540.6 211.5 L541.0 210.4 L541.4 210.8 L541.8 210.4 L542.2 210.2 L542.6 210.3 L543.0 210.1 L543.4 207.7 L543.8 208.0 L544.2 205.6 L544.6 205.4 L545.0 202.1 L545.4 198.8 L545.8 196.3 L546.2 195.0 L546.6 185.4 L547.0 181.5 L547.4 177.3 L547.8 171.1 L548.2 168.8 L548.6 169.8 L549.0 173.7 L549.4 179.3 L549.8 179.0 L550.2 182.2 L550.6 182.9 L551.0 182.9 L551.4 183.0 L551.8 186.0 L552.2 188.5 L552.6 190.6 L553.0 195.2 L553.4 197.4 L553.8 200.0 L554.2 203.0 L554.6 204.1 L555.0 206.2 L555.4 206.2 L555.8 206.9 L556.2 210.9 L556.6 210.8 L557.0 211.4 L557.4 210.6 L557.8 210.6 L558.2 210.1 L558.6 210.4 L559.0 210.3 L559.4 211.1 L559.8 213.4 L560.2 213.0 L560.6 212.3 L561.0 211.9 L561.4 212.2 L561.8 210.1 L562.2 210.8 L562.6 210.1 L563.0 211.1 L563.4 209.9 L563.8 211.8 L564.2 211.1 L564.6 212.2 L565.0 211.3 L565.4 209.7 L565.8 212.2 L566.2 212.6 L566.6 211.4 L567.0 211.4 L567.4 212.6 L567.8 210.8 L568.2 211.0 L568.6 210.2 L569.0 210.7 L569.4 212.3 L569.8 212.3 L570.2 210.4 L570.6 212.2 L571.0 212.4 L571.4 211.1 L571.8 210.4 L572.2 210.5 L572.6 212.6 L573.0 210.2 L573.4 211.0 L573.8 211.6 L574.2 211.6 L574.6 211.8 L575.0 212.6 L575.4 212.2 L575.8 210.6 L576.2 212.4 L576.6 214.3 L577.0 212.0 L577.4 211.2 L577.8 211.0 L578.2 210.0 L578.6 211.8 L579.0 211.8 L579.4 211.3 L579.8 210.6 L580.2 210.5 L580.6 212.2 L581.0 213.3 L581.4 212.5 L581.8 213.3 L582.2 211.4 L582.6 211.8 L583.0 212.2 L583.4 212.7 L583.8 210.8 L584.2 211.1 L584.6 212.1 L585.0 211.4 L585.4 211.7 L585.8 211.3 L586.2 210.5 L586.6 211.6 L587.0 211.4 L587.4 211.2 L587.8 210.7 L588.2 210.9 L588.6 211.6 L589.0 212.3 L589.4 211.7 L589.8 212.6 L590.2 211.4 L590.6 211.3 L591.0 210.9 L591.4 211.5 L591.8 211.8 L592.2 211.6 L592.6 209.2 L593.0 208.9 L593.4 208.4 L593.8 208.7 L594.2 206.2 L594.6 207.6 L595.0 202.3 L595.4 200.5 L595.8 199.6 L596.2 200.1 L596.6 199.7 L597.0 197.3 L597.4 197.7 L597.8 198.0 L598.2 197.8 L598.6 199.5 L599.0 204.2 L599.4 205.7 L599.8 207.0 L600.2 208.2 L600.6 210.4 L601.0 211.7 L601.4 211.2 L601.8 211.2 L602.2 210.5 L602.6 211.1 L603.0 209.9 L603.4 212.2 L603.8 212.8 L604.2 210.9 L604.6 210.4 L605.0 210.8 L605.4 208.8 L605.8 207.3 L606.2 206.3 L606.6 207.3 L607.0 207.0 L607.4 206.1 L607.8 206.0 L608.2 204.9 L608.6 206.2 L609.0 206.2 L609.4 208.9 L609.8 207.4 L610.2 206.1 L610.6 208.0 L611.0 208.3 L611.4 211.0 L611.8 211.2 L612.2 212.2 L612.6 211.2 L613.0 210.7 L613.4 212.5 L613.8 212.8 L614.2 212.5 L614.6 209.8 L615.0 211.0 L615.4 211.7 L615.8 211.4 L616.2 211.4 L616.6 211.9 L617.0 213.1 L617.4 212.9 L617.8 210.6 L618.2 211.1 L618.6 212.1 L619.0 213.2 L619.4 212.4 L619.8 211.9 L620.2 212.4 L620.6 211.3 L621.0 212.1 L621.4 212.2 L621.8 211.2 L622.2 211.5 L622.6 210.9 L623.0 211.8 L623.4 212.4 L623.8 211.7 L624.2 211.6 L624.6 210.9 L625.0 211.2 L625.4 211.9 L625.8 211.6 L626.2 211.3 L626.6 212.8 L627.0 212.5 L627.4 212.4 L627.8 211.2 L628.2 212.2 L628.6 211.4 L629.0 213.0 L629.4 212.7 L629.8 211.4 L630.2 212.2 L630.6 211.5 L631.0 213.8 L631.4 213.1 L631.8 212.4 L632.2 212.6 L632.6 213.9 L633.0 212.6 L633.4 214.5 L633.8 212.7 L634.2 212.2 L634.6 211.9 L635.0 212.8 L635.4 213.9 L635.8 213.7 L636.2 213.5 L636.6 212.7 L637.0 213.1 L637.4 212.9 L637.8 212.6 L638.2 211.9 L638.6 214.5 L639.0 214.2 L639.4 212.9 L639.8 212.6 L640.2 213.7 L640.6 213.8 L641.0 213.6 L641.4 213.4 L641.8 213.9 L642.2 214.2 L642.6 214.6 L643.0 214.2 L643.4 212.5 L643.8 213.8 L644.2 212.9 L644.6 211.4 L645.0 212.4 L645.4 210.9 L645.8 212.1 L646.2 211.0 L646.6 211.4 L647.0 212.4 L647.4 210.8 L647.8 208.1 L648.2 209.1 L648.6 208.2 L649.0 208.4 L649.4 208.1 L649.8 206.1 L650.2 205.7 L650.6 204.9 L651.0 203.8 L651.4 206.2 L651.8 207.0 L652.2 206.6 L652.6 204.7 L653.0 207.3 L653.4 209.2 L653.8 209.3 L654.2 208.3 L654.6 210.9 L655.0 212.2 L655.4 212.4 L655.8 212.2 L656.2 211.2 L656.6 213.9 L657.0 215.5 L657.4 214.3 L657.8 213.6 L658.2 215.8 L658.6 215.4 L659.0 213.7 L659.4 214.5 L659.8 214.1 L660.2 214.1 L660.6 213.8 L661.0 213.8 L661.4 214.0 L661.8 213.2 L662.2 214.3 L662.6 214.2 L663.0 213.1 L663.4 214.0 L663.8 214.1 L664.2 214.1 L664.6 214.1 L665.0 211.3 L665.4 211.2 L665.8 210.1 L666.2 210.1 L666.6 210.6 L667.0 210.8 L667.4 210.1 L667.8 209.9 L668.2 209.0 L668.6 210.3 L669.0 210.0 L669.4 209.6 L669.8 210.5 L670.2 211.1 L670.6 210.8 L671.0 211.0 L671.4 212.1 L671.8 212.6 L672.2 213.5 L672.6 213.1 L673.0 213.6 L673.4 215.2 L673.8 214.8 L674.2 213.9 L674.6 214.0 L675.0 215.1 L675.4 214.2 L675.8 213.9 L676.2 213.9 L676.6 213.2 L677.0 214.5 L677.4 214.3 L677.8 214.7 L678.2 214.0 L678.6 213.5 L679.0 214.0 L679.4 214.0 L679.8 215.1 L680.2 214.5 L680.6 215.5 L681.0 213.4 L681.4 213.2 L681.8 215.6 L682.2 217.3 L682.6 214.5 L683.0 215.1 L683.4 214.6 L683.8 215.6 L684.2 215.1 L684.6 215.3 L685.0 214.5 L685.4 214.9 L685.8 213.7 L686.2 215.0 L686.6 214.0 L687.0 214.4 L687.4 214.4 L687.8 215.9 L688.2 216.7 L688.6 214.5 L689.0 215.5 L689.4 215.4 L689.8 215.2 L690.2 215.6 L690.6 214.9 L691.0 215.9 L691.4 216.2 L691.8 214.5 L692.2 215.2 L692.6 214.5 L693.0 214.1 L693.4 213.4 L693.8 214.0 L694.2 216.1 L694.6 215.9 L695.0 215.4 L695.4 214.0 L695.8 214.2 L696.2 215.1 L696.6 214.7 L697.0 215.0 L697.4 214.5 L697.8 214.6 L698.2 213.9 L698.6 214.3 L699.0 214.0 L699.4 214.6 L699.8 214.3 L700.2 214.8 L700.6 214.4 L701.0 214.5 L701.4 214.9 L701.8 215.2 L702.2 215.2 L702.6 214.6 L703.0 216.5 L703.4 214.6 L703.8 216.4 L704.2 215.7 L704.6 215.2 L705.0 214.4 L705.4 214.5 L705.8 214.8 L706.2 214.8 L706.6 214.1 L707.0 212.8 L707.4 213.9 L707.8 216.4 L708.2 215.8 L708.6 214.7 L709.0 212.2 L709.4 214.5 L709.8 215.4 L710.2 214.6 L710.6 214.5 L711.0 215.8 L711.4 214.5 L711.8 215.7 L712.2 215.5 L712.6 213.9 L713.0 215.6 L713.4 215.6 L713.8 213.7 L714.2 214.6 L714.6 215.8 L715.0 215.7 L715.4 214.4 L715.8 215.9 L716.2 215.9 L716.6 216.2 L717.0 216.3 L717.4 214.3 L717.8 214.6 L718.2 215.3 L718.6 214.7 L719.0 215.4 L719.4 216.1 L719.8 214.4 L720.2 213.9 L720.6 215.3 L721.0 214.6 L721.4 213.6 L721.8 214.1 L722.2 214.4 L722.6 215.8 L723.0 215.4 L723.4 216.5 L723.8 214.6 L724.2 214.8 L724.6 214.0 L725.0 215.2 L725.4 214.5 L725.8 215.9 L726.2 215.7 L726.6 214.6 L727.0 214.5 L727.4 214.9 L727.8 216.3 L728.2 214.4 L728.6 214.0 L729.0 213.9 L729.4 213.7 L729.8 214.9 L730.2 214.8 L730.6 212.8 L731.0 214.8 L731.4 214.9 L731.8 215.3 L732.2 213.8 L732.6 214.3 L733.0 215.7 L733.4 215.8 L733.8 216.3 L734.2 217.2 L734.6 217.8 L735.0 216.4 L735.4 216.1 L735.8 215.2 L736.2 215.6 L736.6 215.1 L737.0 213.5 L737.4 215.4 L737.8 216.3 L738.2 214.6 L738.6 212.8 L739.0 215.0 L739.4 216.6 L739.8 215.7 L740.2 215.4 L740.6 214.6 L741.0 215.6 L741.2 228.0 Z" fill="#93D4F8" stroke="none"/>
<path d="M424.8 5.0 L425.2 100.0 L425.9 200.0 L426.8 211.0 L427.8 216.3 L428.2 216.3 L428.6 216.2 L429.0 217.2 L429.4 215.0 L429.8 213.7 L430.2 213.6 L430.6 212.9 L431.0 212.6 L431.4 213.8 L431.8 214.1 L432.2 213.8 L432.6 212.7 L433.0 212.4 L433.4 214.0 L433.8 214.4 L434.2 212.5 L434.6 210.7 L435.0 210.9 L435.4 210.6 L435.8 207.4 L436.2 206.5 L436.6 205.1 L437.0 204.2 L437.4 206.2 L437.8 208.9 L438.2 210.2 L438.6 212.4 L439.0 213.1 L439.4 213.7 L439.8 213.6 L440.2 213.8 L440.6 213.7 L441.0 213.7 L441.4 213.4 L441.8 213.3 L442.2 213.1 L442.6 212.2 L443.0 214.3 L443.4 212.9 L443.8 213.3 L444.2 214.6 L444.6 214.0 L445.0 213.5 L445.4 212.6 L445.8 214.0 L446.2 213.5 L446.6 213.2 L447.0 214.6 L447.4 214.7 L447.8 212.8 L448.2 211.8 L448.6 210.8 L449.0 210.4 L449.4 209.6 L449.8 208.7 L450.2 206.4 L450.6 206.8 L451.0 206.0 L451.4 204.7 L451.8 206.7 L452.2 205.0 L452.6 207.0 L453.0 208.3 L453.4 207.1 L453.8 210.1 L454.2 211.6 L454.6 210.2 L455.0 212.2 L455.4 212.6 L455.8 211.6 L456.2 211.3 L456.6 211.2 L457.0 211.2 L457.4 210.3 L457.8 210.2 L458.2 210.6 L458.6 211.8 L459.0 212.1 L459.4 213.1 L459.8 211.1 L460.2 212.4 L460.6 210.8 L461.0 209.0 L461.4 211.2 L461.8 211.9 L462.2 211.5 L462.6 210.3 L463.0 211.3 L463.4 211.2 L463.8 211.3 L464.2 211.1 L464.6 209.6 L465.0 211.1 L465.4 210.9 L465.8 210.4 L466.2 209.7 L466.6 211.4 L467.0 210.0 L467.4 209.8 L467.8 209.6 L468.2 210.1 L468.6 211.9 L469.0 211.6 L469.4 209.9 L469.8 210.1 L470.2 210.4 L470.6 208.7 L471.0 207.7 L471.4 209.6 L471.8 208.5 L472.2 211.4 L472.6 212.8 L473.0 210.1 L473.4 210.1 L473.8 209.7 L474.2 209.4 L474.6 210.0 L475.0 209.5 L475.4 209.7 L475.8 211.4 L476.2 210.3 L476.6 209.7 L477.0 208.1 L477.4 210.2 L477.8 210.1 L478.2 210.1 L478.6 209.9 L479.0 208.1 L479.4 208.6 L479.8 209.8 L480.2 209.5 L480.6 208.6 L481.0 210.0 L481.4 209.9 L481.8 207.9 L482.2 207.8 L482.6 208.9 L483.0 209.5 L483.4 209.3 L483.8 210.5 L484.2 208.6 L484.6 208.2 L485.0 208.5 L485.4 209.9 L485.8 209.8 L486.2 208.4 L486.6 208.2 L487.0 208.9 L487.4 208.2 L487.8 207.3 L488.2 208.6 L488.6 209.0 L489.0 209.1 L489.4 209.3 L489.8 207.1 L490.2 206.0 L490.6 205.3 L491.0 205.8 L491.4 205.0 L491.8 202.5 L492.2 201.2 L492.6 199.8 L493.0 200.1 L493.4 198.9 L493.8 197.4 L494.2 197.8 L494.6 198.4 L495.0 200.6 L495.4 200.7 L495.8 202.1 L496.2 201.4 L496.6 202.3 L497.0 202.6 L497.4 201.8 L497.8 198.2 L498.2 194.6 L498.6 189.7 L499.0 184.6 L499.4 174.6 L499.8 165.8 L500.2 149.6 L500.6 136.8 L501.0 122.1 L501.4 105.9 L501.8 92.3 L502.2 80.2 L502.6 72.9 L503.0 74.5 L503.4 90.7 L503.8 108.1 L504.2 123.3 L504.6 140.9 L505.0 155.7 L505.4 166.0 L505.8 175.4 L506.2 184.9 L506.6 189.9 L507.0 196.9 L507.4 201.3 L507.8 202.8 L508.2 204.3 L508.6 208.9 L509.0 209.7 L509.4 208.4 L509.8 210.5 L510.2 211.2 L510.6 211.4 L511.0 211.7 L511.4 211.5 L511.8 210.1 L512.2 208.6 L512.6 207.8 L513.0 209.0 L513.4 211.1 L513.8 209.7 L514.2 209.0 L514.6 208.0 L515.0 207.8 L515.4 209.3 L515.8 207.4 L516.2 208.8 L516.6 208.3 L517.0 206.8 L517.4 206.6 L517.8 205.7 L518.2 209.5 L518.6 208.7 L519.0 207.9 L519.4 209.1 L519.8 209.0 L520.2 210.6 L520.6 209.8 L521.0 209.5 L521.4 211.1 L521.8 211.4 L522.2 210.9 L522.6 211.2 L523.0 209.9 L523.4 210.1 L523.8 209.4 L524.2 209.2 L524.6 210.3 L525.0 210.9 L525.4 211.7 L525.8 211.8 L526.2 211.8 L526.6 210.8 L527.0 211.5 L527.4 211.1 L527.8 210.7 L528.2 211.3 L528.6 211.3 L529.0 209.7 L529.4 209.0 L529.8 211.1 L530.2 211.4 L530.6 211.4 L531.0 211.4 L531.4 209.7 L531.8 209.9 L532.2 209.6 L532.6 209.0 L533.0 210.8 L533.4 211.3 L533.8 211.0 L534.2 210.1 L534.6 210.7 L535.0 210.5 L535.4 209.7 L535.8 209.6 L536.2 210.2 L536.6 211.6 L537.0 212.7 L537.4 210.5 L537.8 210.2 L538.2 211.7 L538.6 211.8 L539.0 211.6 L539.4 212.6 L539.8 211.3 L540.2 211.6 L540.6 211.5 L541.0 210.4 L541.4 210.8 L541.8 210.4 L542.2 210.2 L542.6 210.3 L543.0 210.1 L543.4 207.7 L543.8 208.0 L544.2 205.6 L544.6 205.4 L545.0 202.1 L545.4 198.8 L545.8 196.3 L546.2 195.0 L546.6 185.4 L547.0 181.5 L547.4 177.3 L547.8 171.1 L548.2 168.8 L548.6 169.8 L549.0 173.7 L549.4 179.3 L549.8 179.0 L550.2 182.2 L550.6 182.9 L551.0 182.9 L551.4 183.0 L551.8 186.0 L552.2 188.5 L552.6 190.6 L553.0 195.2 L553.4 197.4 L553.8 200.0 L554.2 203.0 L554.6 204.1 L555.0 206.2 L555.4 206.2 L555.8 206.9 L556.2 210.9 L556.6 210.8 L557.0 211.4 L557.4 210.6 L557.8 210.6 L558.2 210.1 L558.6 210.4 L559.0 210.3 L559.4 211.1 L559.8 213.4 L560.2 213.0 L560.6 212.3 L561.0 211.9 L561.4 212.2 L561.8 210.1 L562.2 210.8 L562.6 210.1 L563.0 211.1 L563.4 209.9 L563.8 211.8 L564.2 211.1 L564.6 212.2 L565.0 211.3 L565.4 209.7 L565.8 212.2 L566.2 212.6 L566.6 211.4 L567.0 211.4 L567.4 212.6 L567.8 210.8 L568.2 211.0 L568.6 210.2 L569.0 210.7 L569.4 212.3 L569.8 212.3 L570.2 210.4 L570.6 212.2 L571.0 212.4 L571.4 211.1 L571.8 210.4 L572.2 210.5 L572.6 212.6 L573.0 210.2 L573.4 211.0 L573.8 211.6 L574.2 211.6 L574.6 211.8 L575.0 212.6 L575.4 212.2 L575.8 210.6 L576.2 212.4 L576.6 214.3 L577.0 212.0 L577.4 211.2 L577.8 211.0 L578.2 210.0 L578.6 211.8 L579.0 211.8 L579.4 211.3 L579.8 210.6 L580.2 210.5 L580.6 212.2 L581.0 213.3 L581.4 212.5 L581.8 213.3 L582.2 211.4 L582.6 211.8 L583.0 212.2 L583.4 212.7 L583.8 210.8 L584.2 211.1 L584.6 212.1 L585.0 211.4 L585.4 211.7 L585.8 211.3 L586.2 210.5 L586.6 211.6 L587.0 211.4 L587.4 211.2 L587.8 210.7 L588.2 210.9 L588.6 211.6 L589.0 212.3 L589.4 211.7 L589.8 212.6 L590.2 211.4 L590.6 211.3 L591.0 210.9 L591.4 211.5 L591.8 211.8 L592.2 211.6 L592.6 209.2 L593.0 208.9 L593.4 208.4 L593.8 208.7 L594.2 206.2 L594.6 207.6 L595.0 202.3 L595.4 200.5 L595.8 199.6 L596.2 200.1 L596.6 199.7 L597.0 197.3 L597.4 197.7 L597.8 198.0 L598.2 197.8 L598.6 199.5 L599.0 204.2 L599.4 205.7 L599.8 207.0 L600.2 208.2 L600.6 210.4 L601.0 211.7 L601.4 211.2 L601.8 211.2 L602.2 210.5 L602.6 211.1 L603.0 209.9 L603.4 212.2 L603.8 212.8 L604.2 210.9 L604.6 210.4 L605.0 210.8 L605.4 208.8 L605.8 207.3 L606.2 206.3 L606.6 207.3 L607.0 207.0 L607.4 206.1 L607.8 206.0 L608.2 204.9 L608.6 206.2 L609.0 206.2 L609.4 208.9 L609.8 207.4 L610.2 206.1 L610.6 208.0 L611.0 208.3 L611.4 211.0 L611.8 211.2 L612.2 212.2 L612.6 211.2 L613.0 210.7 L613.4 212.5 L613.8 212.8 L614.2 212.5 L614.6 209.8 L615.0 211.0 L615.4 211.7 L615.8 211.4 L616.2 211.4 L616.6 211.9 L617.0 213.1 L617.4 212.9 L617.8 210.6 L618.2 211.1 L618.6 212.1 L619.0 213.2 L619.4 212.4 L619.8 211.9 L620.2 212.4 L620.6 211.3 L621.0 212.1 L621.4 212.2 L621.8 211.2 L622.2 211.5 L622.6 210.9 L623.0 211.8 L623.4 212.4 L623.8 211.7 L624.2 211.6 L624.6 210.9 L625.0 211.2 L625.4 211.9 L625.8 211.6 L626.2 211.3 L626.6 212.8 L627.0 212.5 L627.4 212.4 L627.8 211.2 L628.2 212.2 L628.6 211.4 L629.0 213.0 L629.4 212.7 L629.8 211.4 L630.2 212.2 L630.6 211.5 L631.0 213.8 L631.4 213.1 L631.8 212.4 L632.2 212.6 L632.6 213.9 L633.0 212.6 L633.4 214.5 L633.8 212.7 L634.2 212.2 L634.6 211.9 L635.0 212.8 L635.4 213.9 L635.8 213.7 L636.2 213.5 L636.6 212.7 L637.0 213.1 L637.4 212.9 L637.8 212.6 L638.2 211.9 L638.6 214.5 L639.0 214.2 L639.4 212.9 L639.8 212.6 L640.2 213.7 L640.6 213.8 L641.0 213.6 L641.4 213.4 L641.8 213.9 L642.2 214.2 L642.6 214.6 L643.0 214.2 L643.4 212.5 L643.8 213.8 L644.2 212.9 L644.6 211.4 L645.0 212.4 L645.4 210.9 L645.8 212.1 L646.2 211.0 L646.6 211.4 L647.0 212.4 L647.4 210.8 L647.8 208.1 L648.2 209.1 L648.6 208.2 L649.0 208.4 L649.4 208.1 L649.8 206.1 L650.2 205.7 L650.6 204.9 L651.0 203.8 L651.4 206.2 L651.8 207.0 L652.2 206.6 L652.6 204.7 L653.0 207.3 L653.4 209.2 L653.8 209.3 L654.2 208.3 L654.6 210.9 L655.0 212.2 L655.4 212.4 L655.8 212.2 L656.2 211.2 L656.6 213.9 L657.0 215.5 L657.4 214.3 L657.8 213.6 L658.2 215.8 L658.6 215.4 L659.0 213.7 L659.4 214.5 L659.8 214.1 L660.2 214.1 L660.6 213.8 L661.0 213.8 L661.4 214.0 L661.8 213.2 L662.2 214.3 L662.6 214.2 L663.0 213.1 L663.4 214.0 L663.8 214.1 L664.2 214.1 L664.6 214.1 L665.0 211.3 L665.4 211.2 L665.8 210.1 L666.2 210.1 L666.6 210.6 L667.0 210.8 L667.4 210.1 L667.8 209.9 L668.2 209.0 L668.6 210.3 L669.0 210.0 L669.4 209.6 L669.8 210.5 L670.2 211.1 L670.6 210.8 L671.0 211.0 L671.4 212.1 L671.8 212.6 L672.2 213.5 L672.6 213.1 L673.0 213.6 L673.4 215.2 L673.8 214.8 L674.2 213.9 L674.6 214.0 L675.0 215.1 L675.4 214.2 L675.8 213.9 L676.2 213.9 L676.6 213.2 L677.0 214.5 L677.4 214.3 L677.8 214.7 L678.2 214.0 L678.6 213.5 L679.0 214.0 L679.4 214.0 L679.8 215.1 L680.2 214.5 L680.6 215.5 L681.0 213.4 L681.4 213.2 L681.8 215.6 L682.2 217.3 L682.6 214.5 L683.0 215.1 L683.4 214.6 L683.8 215.6 L684.2 215.1 L684.6 215.3 L685.0 214.5 L685.4 214.9 L685.8 213.7 L686.2 215.0 L686.6 214.0 L687.0 214.4 L687.4 214.4 L687.8 215.9 L688.2 216.7 L688.6 214.5 L689.0 215.5 L689.4 215.4 L689.8 215.2 L690.2 215.6 L690.6 214.9 L691.0 215.9 L691.4 216.2 L691.8 214.5 L692.2 215.2 L692.6 214.5 L693.0 214.1 L693.4 213.4 L693.8 214.0 L694.2 216.1 L694.6 215.9 L695.0 215.4 L695.4 214.0 L695.8 214.2 L696.2 215.1 L696.6 214.7 L697.0 215.0 L697.4 214.5 L697.8 214.6 L698.2 213.9 L698.6 214.3 L699.0 214.0 L699.4 214.6 L699.8 214.3 L700.2 214.8 L700.6 214.4 L701.0 214.5 L701.4 214.9 L701.8 215.2 L702.2 215.2 L702.6 214.6 L703.0 216.5 L703.4 214.6 L703.8 216.4 L704.2 215.7 L704.6 215.2 L705.0 214.4 L705.4 214.5 L705.8 214.8 L706.2 214.8 L706.6 214.1 L707.0 212.8 L707.4 213.9 L707.8 216.4 L708.2 215.8 L708.6 214.7 L709.0 212.2 L709.4 214.5 L709.8 215.4 L710.2 214.6 L710.6 214.5 L711.0 215.8 L711.4 214.5 L711.8 215.7 L712.2 215.5 L712.6 213.9 L713.0 215.6 L713.4 215.6 L713.8 213.7 L714.2 214.6 L714.6 215.8 L715.0 215.7 L715.4 214.4 L715.8 215.9 L716.2 215.9 L716.6 216.2 L717.0 216.3 L717.4 214.3 L717.8 214.6 L718.2 215.3 L718.6 214.7 L719.0 215.4 L719.4 216.1 L719.8 214.4 L720.2 213.9 L720.6 215.3 L721.0 214.6 L721.4 213.6 L721.8 214.1 L722.2 214.4 L722.6 215.8 L723.0 215.4 L723.4 216.5 L723.8 214.6 L724.2 214.8 L724.6 214.0 L725.0 215.2 L725.4 214.5 L725.8 215.9 L726.2 215.7 L726.6 214.6 L727.0 214.5 L727.4 214.9 L727.8 216.3 L728.2 214.4 L728.6 214.0 L729.0 213.9 L729.4 213.7 L729.8 214.9 L730.2 214.8 L730.6 212.8 L731.0 214.8 L731.4 214.9 L731.8 215.3 L732.2 213.8 L732.6 214.3 L733.0 215.7 L733.4 215.8 L733.8 216.3 L734.2 217.2 L734.6 217.8 L735.0 216.4 L735.4 216.1 L735.8 215.2 L736.2 215.6 L736.6 215.1 L737.0 213.5 L737.4 215.4 L737.8 216.3 L738.2 214.6 L738.6 212.8 L739.0 215.0 L739.4 216.6 L739.8 215.7 L740.2 215.4 L740.6 214.6 L741.0 215.6" fill="none" stroke="#3a4550" stroke-width="0.7" stroke-linejoin="round"/>
<line x1="428.0" y1="164.5" x2="428.0" y2="227.3" stroke="#E8B040" stroke-width="1.3"/>
<line x1="437.3" y1="112.0" x2="437.3" y2="227.3" stroke="#E8B040" stroke-width="1.3"/>
<line x1="453.1" y1="111.4" x2="453.1" y2="227.3" stroke="#33F533" stroke-width="1.4"/>
<line x1="463.7" y1="186.0" x2="463.7" y2="227.3" stroke="#33F533" stroke-width="1.4"/>
<line x1="474.0" y1="199.2" x2="474.0" y2="227.3" stroke="#33F533" stroke-width="1.4"/>
<line x1="476.0" y1="214.3" x2="476.0" y2="227.3" stroke="#66EE66" stroke-width="1.3"/>
<line x1="491.6" y1="216.0" x2="491.6" y2="227.3" stroke="#E04545" stroke-width="1.2"/>
<line x1="494.1" y1="218.0" x2="494.1" y2="227.3" stroke="#E04545" stroke-width="1.2"/>
<line x1="502.4" y1="109.6" x2="502.4" y2="227.3" stroke="#FF1010" stroke-width="1.2"/>
<line x1="502.7" y1="164.6" x2="502.7" y2="227.3" stroke="#FF0000" stroke-width="2.6"/>
<line x1="508.4" y1="218.0" x2="508.4" y2="227.3" stroke="#FF1010" stroke-width="1.2"/>
<line x1="516.4" y1="218.0" x2="516.4" y2="227.3" stroke="#FF1010" stroke-width="1.2"/>
<line x1="520.9" y1="216.0" x2="520.9" y2="227.3" stroke="#E8B040" stroke-width="1.3"/>
<line x1="548.1" y1="110.6" x2="548.1" y2="227.3" stroke="#E8B040" stroke-width="1.3"/>
<line x1="551.6" y1="164.6" x2="551.6" y2="227.3" stroke="#E8B040" stroke-width="1.3"/>
<line x1="549.6" y1="207.6" x2="549.6" y2="227.3" stroke="#E8B040" stroke-width="1.2"/>
<line x1="563.4" y1="216.0" x2="563.4" y2="227.3" stroke="#E8B040" stroke-width="1.3"/>
<line x1="624.5" y1="218.0" x2="624.5" y2="227.3" stroke="#33F533" stroke-width="1.3"/>
<line x1="651.1" y1="111.4" x2="651.1" y2="227.3" stroke="#33F533" stroke-width="1.4"/>
<line x1="668.2" y1="164.7" x2="668.2" y2="227.3" stroke="#33F533" stroke-width="1.4"/>
<line x1="673.9" y1="211.8" x2="673.9" y2="227.3" stroke="#33F533" stroke-width="1.4"/>
<line x1="684.1" y1="201.7" x2="684.1" y2="227.3" stroke="#33F533" stroke-width="1.4"/>
<line x1="703.3" y1="213.8" x2="703.3" y2="227.3" stroke="#33F533" stroke-width="1.3"/>
<line x1="719.6" y1="218.0" x2="719.6" y2="227.3" stroke="#33F533" stroke-width="1.3"/>
<line x1="423.4" y1="223.6" x2="423.4" y2="228.6" stroke="#000" stroke-width="1.5"/>
<line x1="434.0" y1="225.6" x2="434.0" y2="228.6" stroke="#000" stroke-width="1.3"/>
<line x1="444.6" y1="225.6" x2="444.6" y2="228.6" stroke="#000" stroke-width="1.3"/>
<line x1="455.2" y1="225.6" x2="455.2" y2="228.6" stroke="#000" stroke-width="1.3"/>
<line x1="465.8" y1="225.6" x2="465.8" y2="228.6" stroke="#000" stroke-width="1.3"/>
<line x1="476.4" y1="223.6" x2="476.4" y2="228.6" stroke="#000" stroke-width="1.5"/>
<line x1="487.0" y1="225.6" x2="487.0" y2="228.6" stroke="#000" stroke-width="1.3"/>
<line x1="497.6" y1="225.6" x2="497.6" y2="228.6" stroke="#000" stroke-width="1.3"/>
<line x1="508.2" y1="225.6" x2="508.2" y2="228.6" stroke="#000" stroke-width="1.3"/>
<line x1="518.8" y1="225.6" x2="518.8" y2="228.6" stroke="#000" stroke-width="1.3"/>
<line x1="529.4" y1="223.6" x2="529.4" y2="228.6" stroke="#000" stroke-width="1.5"/>
<line x1="540.0" y1="225.6" x2="540.0" y2="228.6" stroke="#000" stroke-width="1.3"/>
<line x1="550.6" y1="225.6" x2="550.6" y2="228.6" stroke="#000" stroke-width="1.3"/>
<line x1="561.2" y1="225.6" x2="561.2" y2="228.6" stroke="#000" stroke-width="1.3"/>
<line x1="571.8" y1="225.6" x2="571.8" y2="228.6" stroke="#000" stroke-width="1.3"/>
<line x1="582.4" y1="223.6" x2="582.4" y2="228.6" stroke="#000" stroke-width="1.5"/>
<line x1="593.0" y1="225.6" x2="593.0" y2="228.6" stroke="#000" stroke-width="1.3"/>
<line x1="603.6" y1="225.6" x2="603.6" y2="228.6" stroke="#000" stroke-width="1.3"/>
<line x1="614.2" y1="225.6" x2="614.2" y2="228.6" stroke="#000" stroke-width="1.3"/>
<line x1="624.8" y1="225.6" x2="624.8" y2="228.6" stroke="#000" stroke-width="1.3"/>
<line x1="635.4" y1="223.6" x2="635.4" y2="228.6" stroke="#000" stroke-width="1.5"/>
<line x1="646.0" y1="225.6" x2="646.0" y2="228.6" stroke="#000" stroke-width="1.3"/>
<line x1="656.6" y1="225.6" x2="656.6" y2="228.6" stroke="#000" stroke-width="1.3"/>
<line x1="667.2" y1="225.6" x2="667.2" y2="228.6" stroke="#000" stroke-width="1.3"/>
<line x1="677.8" y1="225.6" x2="677.8" y2="228.6" stroke="#000" stroke-width="1.3"/>
<line x1="688.4" y1="223.6" x2="688.4" y2="228.6" stroke="#000" stroke-width="1.5"/>
<line x1="699.0" y1="225.6" x2="699.0" y2="228.6" stroke="#000" stroke-width="1.3"/>
<line x1="709.6" y1="225.6" x2="709.6" y2="228.6" stroke="#000" stroke-width="1.3"/>
<line x1="720.2" y1="225.6" x2="720.2" y2="228.6" stroke="#000" stroke-width="1.3"/>
<line x1="730.8" y1="225.6" x2="730.8" y2="228.6" stroke="#000" stroke-width="1.3"/>
<line x1="741.4" y1="223.6" x2="741.4" y2="228.6" stroke="#000" stroke-width="1.5"/>
<line x1="422.5" y1="4.9" x2="742.45" y2="4.9" stroke="#000" stroke-width="1.4"/>
<line x1="422.5" y1="228.6" x2="742.45" y2="228.6" stroke="#000" stroke-width="1.7"/>
<line x1="423.4" y1="4.2" x2="423.4" y2="229.4" stroke="#000" stroke-width="1.9"/>
<line x1="741.6" y1="4.2" x2="741.6" y2="229.4" stroke="#000" stroke-width="1.7"/>
<rect x="426.2" y="96.4" width="20.6" height="15.4" fill="#E3AB35"/><text x="436.5" y="107.2" class="lb">Pb<tspan class="sb" dy="2.2">M</tspan></text>
<rect x="447.9" y="94.2" width="21.0" height="15.4" fill="#0CF00C"/><text x="458.4" y="105.0" class="lb">Cs<tspan class="sb" dy="2.2">M</tspan></text>
<rect x="495.0" y="94.2" width="17.4" height="15.4" fill="#FB0D0D"/><text x="503.7" y="105.0" class="lb">Br<tspan class="sb" dy="2.2">L</tspan></text>
<rect x="541.0" y="95.0" width="20.6" height="15.6" fill="#E3AB35"/><text x="551.3" y="105.9" class="lb">Pb<tspan class="sb" dy="2.2">M</tspan></text>
<rect x="643.1" y="94.2" width="19.6" height="15.6" fill="#0CF00C"/><text x="652.9" y="105.1" class="lb">Cs<tspan class="sb" dy="2.2">L</tspan></text>
<text x="423.4" y="246.4" class="tk">0</text>
<text x="476.4" y="246.4" class="tk">1</text>
<text x="529.4" y="246.4" class="tk">2</text>
<text x="582.4" y="246.4" class="tk">3</text>
<text x="635.4" y="246.4" class="tk">4</text>
<text x="688.4" y="246.4" class="tk">5</text>
<text x="740.4" y="246.4" class="tk">6</text>
<text x="392.9" y="12.4" class="pl">B</text>
<text x="573.5" y="28" class="tt">ITO/Mg:SnO<tspan class="ts" dy="2.5">2</tspan><tspan dy="-2.5">/CsPbBr</tspan><tspan class="ts" dy="2.5">3</tspan></text>
<text x="582.5" y="263.3" class="ax">Energy(KeV)</text>
</svg>
</body></html>
